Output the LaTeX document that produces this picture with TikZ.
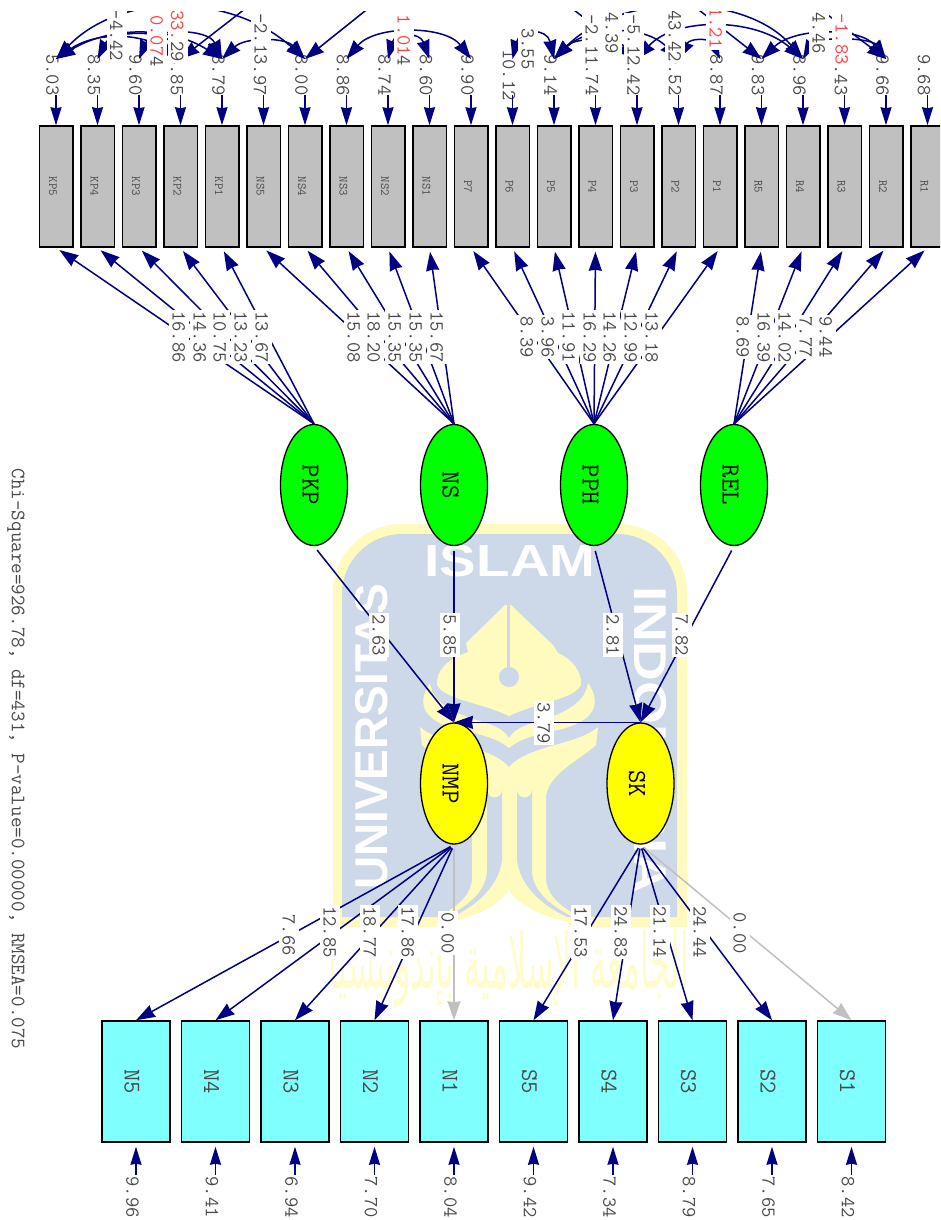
\documentclass[tikz,border=0pt]{standalone}
\usepackage{graphicx}
\usepackage{fontspec}
\usetikzlibrary{arrows.meta,shapes.geometric}
\newfontfamily\wmfont{Liberation Sans}
\newfontfamily\arabicfont[Script=Arabic]{DejaVu Sans}
\TeXXeTstate=1
\definecolor{wmyellow}{HTML}{FFFBBE}
\definecolor{wmpale}{HTML}{FFFCCC}
\definecolor{wmblue}{HTML}{CDD9E9}
\definecolor{pathnavy}{HTML}{000080}
\definecolor{zerogrey}{HTML}{C0C0C0}
\definecolor{txtgrey}{HTML}{4A4A4A}
\definecolor{txtred}{HTML}{FF4040}
\definecolor{fillcyan}{HTML}{80FFFF}
\definecolor{fillgreen}{HTML}{00FF00}
\definecolor{fillyellow}{HTML}{FFFF00}
\newcommand{\valfont}{\ttfamily\fontsize{20}{20}\selectfont}
\newcommand{\smfont}{\ttfamily\fontsize{12.5}{12.5}\selectfont}
\newcommand{\bigfont}{\ttfamily\fontsize{24}{24}\selectfont}
\newcommand{\latfont}{\ttfamily\fontsize{26}{26}\selectfont}
\begin{document}
\begin{tikzpicture}[x=1pt,y=-1pt,line join=miter,
  >={Stealth[length=19pt,width=13pt,inset=1pt]},
  obsgrey/.style={rectangle,draw=black,line width=1.5pt,fill=zerogrey,rotate=-90,inner sep=0pt,minimum width=121pt,minimum height=33.5pt,font=\smfont,text=txtgrey,text height=14pt,text depth=0pt},
  obscyan/.style={rectangle,draw=black,line width=1.5pt,fill=fillcyan,rotate=-90,inner sep=0pt,minimum width=121pt,minimum height=68pt,font=\bigfont,text=txtgrey,text height=22.6pt,text depth=0pt},
  latent/.style={ellipse,draw=black,line width=1.3pt,rotate=-90,inner sep=0pt,minimum width=121pt,minimum height=67pt,font=\latfont,text=black,text height=23pt,text depth=0pt},
  val/.style={rotate=-90,font=\valfont,text=txtgrey,inner sep=0pt},
  valbox/.style={val,fill=white,inner xsep=1.5pt,inner ysep=3.5pt,text height=13pt,text depth=0pt},
  pathline/.style={->,line width=1.5pt,pathnavy},
  pathzero/.style={->,line width=1.5pt,zerogrey},
  errpath/.style={-{Stealth[length=18pt,width=11pt,inset=1pt]},line width=1.5pt,pathnavy},
  covar/.style={<->,line width=1.5pt,pathnavy},
  covarend/.style={->,line width=1.5pt,pathnavy}]

\useasboundingbox (0,0) rectangle (940,1220);
\clip (0,12) rectangle (940,1220);

\fill[wmyellow] (333,927) [rounded corners=68pt] -- (333,524) -- (687,524) [sharp corners] -- (687,927) -- cycle;
\fill[wmblue] (342,917) [rounded corners=60pt] -- (342,534) -- (677,534) [sharp corners] -- (677,917) -- cycle;
\fill[wmyellow] (505,605) -- (466,643) -- (468,652) .. controls (445,660) and (436,672) .. (437,685) .. controls (445,700) and (480,702) .. (509,716) .. controls (538,702) and (573,700) .. (581,685) .. controls (582,672) and (573,660) .. (558,653) -- (553,645) -- (511,605) -- cycle;
\fill[wmblue] (507,605) rectangle (510,670);
\fill[wmblue] (509,677) circle (10);
\fill[wmyellow] (430,683) .. controls (415,705) and (425,722) .. (460,730) .. controls (485,735) and (500,740) .. (509,748) .. controls (518,740) and (533,735) .. (558,730) .. controls (593,722) and (603,705) .. (588,683) .. controls (585,705) and (560,715) .. (535,722) .. controls (522,726) and (514,730) .. (509,738) .. controls (504,730) and (496,726) .. (483,722) .. controls (458,715) and (433,705) .. (430,683) -- cycle;
\fill[wmyellow] (420,727) .. controls (440,745) and (490,745) .. (509,767) .. controls (528,745) and (578,745) .. (598,727) -- (596,745) .. controls (580,760) and (545,775) .. (546,800) -- (546,880) .. controls (548,900) and (568,910) .. (582,919) -- (436,919) .. controls (450,910) and (470,900) .. (472,880) -- (472,800) .. controls (473,775) and (438,760) .. (422,745) -- cycle;
\fill[wmblue] (487,790) arc[start angle=180,end angle=0,radius=7.5] -- (502,860) .. controls (499,885) and (478,905) .. (452,917) -- (446,917) .. controls (470,905) and (487,890) .. (487,870) -- cycle;
\fill[wmblue] (532,790) arc[start angle=0,end angle=180,radius=7.5] -- (517,860) .. controls (520,885) and (541,905) .. (567,917) -- (573,917) .. controls (549,905) and (532,890) .. (532,870) -- cycle;
\fill[white] (509,890) .. controls (500,905) and (480,915) .. (450,922) -- (450,930) -- (568,930) -- (568,922) .. controls (538,915) and (518,905) .. (509,890) -- cycle;

\node[text=white,font=\wmfont\bfseries\fontsize{45}{45}\selectfont,inner sep=0pt] (wmislam) at (510,561) {\scalebox{1.22}[1]{ISLAM}};
\node[text=white,font=\wmfont\bfseries\fontsize{46}{46}\selectfont,inner sep=0pt,rotate=90] (wmuni) at (372,737) {UNIVERSITAS};
\node[text=white,font=\wmfont\bfseries\fontsize{46}{46}\selectfont,inner sep=0pt,rotate=-90] (wmindo) at (650,740) {\scalebox{1.2}[1]{INDONESIA}};
\node[text=wmpale,inner sep=0pt] (wmarab) at (509,969) {\resizebox{360pt}{58pt}{\arabicfont\beginR الجامعة الإسلامية بإندونيسيا\endR}};

\foreach \name/\err [count=\i from 0] in {KP5/5.03,KP4/8.35,KP3/9.60,KP2/8.85,KP1/8.79,NS5/8.97,NS4/8.00,NS3/8.86,NS2/8.74,NS1/8.60,P7/9.90,P6/10.12,P5/9.14,P4/9.74,P3/9.42,P2/9.52,P1/8.87,R5/9.83,R4/8.96,R3/9.43,R2/9.66,R1/9.68}{
  \node[obsgrey] (\name) at (56+41.5*\i,186.5) {\name};
  \node[val] (e\name) at (52.5+41.5*\i,75) {\err};
  \coordinate (s\name) at (56+41.5*\i,95);
  \coordinate (t\name) at (56+41.5*\i,59);
  \draw[errpath] (s\name) -- (\name.west);
}

\foreach \name/\err [count=\i from 0] in {N5/9.96,N4/9.41,N3/6.94,N2/7.70,N1/8.04,S5/9.42,S4/7.34,S3/8.79,S2/7.65,S1/8.42}{
  \node[obscyan] (\name) at (136+79.5*\i,1081.5) {\name};
  \node[val] (e\name) at (132.5+79.5*\i,1197) {\err};
  \coordinate (s\name) at (136+79.5*\i,1175);
  \draw[errpath,shorten >=4pt] (s\name) -- (\name.east);
}

\node[latent,fill=fillgreen] (PKP) at (314,485) {PKP};
\node[latent,fill=fillgreen] (NS) at (454,485) {NS};
\node[latent,fill=fillgreen] (PPH) at (594,485) {PPH};
\node[latent,fill=fillgreen] (REL) at (734,485) {REL};
\node[latent,fill=fillyellow] (NMP) at (454,783.5) {NMP};
\node[latent,fill=fillyellow] (SK) at (640.5,783.5) {SK};

\foreach \from/\list in {PKP/{KP5,KP4,KP3,KP2,KP1},NS/{NS5,NS4,NS3,NS2,NS1},PPH/{P7,P6,P5,P4,P3,P2,P1},REL/{R5,R4,R3,R2,R1}}{
  \foreach \to in \list {\draw[pathline,shorten >=4pt] (\from.west) -- (\to.east);}
}
\foreach \from/\to in {PKP/NMP,NS/NMP,PPH/SK,REL/SK}{\draw[pathline,shorten <=5pt] (\from.east) -- (\to.west);}
\draw[pathline] (SK.west) -- (NMP.west);
\foreach \to in {N5,N4,N3,N2}{\draw[pathline,shorten <=4pt] (NMP.east) -- (\to.west);}
\foreach \to in {S5,S4,S3,S2}{\draw[pathline,shorten <=4pt] (SK.east) -- (\to.west);}
\draw[pathzero,shorten <=4pt] (NMP.east) -- (N1.west);
\draw[pathzero,shorten <=4pt] (SK.east) -- (S1.west);

\coordinate (oKPa) at (250,5);
\coordinate (oNSa) at (375,3);
\coordinate (oPa) at (565,3);
\coordinate (oRa) at (690,3);
\coordinate (oRb) at (812,3);
\draw[covar] (tKP5) .. controls (120,-8) and (230,-8) .. (tNS4);
\draw[covar] (tKP5) .. controls (110,26) and (170,26) .. (tKP1);
\draw[covar] (tKP5) .. controls (95,32) and (140,32) .. (tKP2);
\draw[covar] (tKP4) .. controls (112,30) and (165,30) .. (tKP2);
\draw[covar] (tKP3) .. controls (152,28) and (208,28) .. (tKP1);
\draw[covar] (tKP1) .. controls (245,37) and (285,37) .. (tNS4);
\draw[covar] (tNS3) .. controls (375,25) and (445,25) .. (tP7);
\draw[covar] (tNS2) .. controls (395,32) and (420,32) .. (tNS1);
\draw[covar] (tP6) .. controls (520,28) and (547,28) .. (tP5);
\draw[covar] (tP5) .. controls (620,-8) and (745,-8) .. (tR4);
\draw[covar] (tP5) .. controls (590,25) and (645,25) .. (tP2);
\draw[covar] (tP5) .. controls (575,37) and (615,37) .. (tP3);
\draw[covar] (tP3) .. controls (675,17) and (755,17) .. (tR4);
\draw[covar] (tP2) .. controls (690,38) and (710,38) .. (tP1);
\draw[covar] (tR5) .. controls (795,27) and (860,27) .. (tR2);
\draw[covar] (tR4) .. controls (815,37) and (870,37) .. (tR2);
\draw[covarend] (oKPa) -- (tKP2);
\draw[covarend] (oNSa) -- (tNS4);
\draw[covarend] (oPa) -- (tP3);
\draw[covarend] (oRa) -- (tR5);
\draw[covarend] (oRb) -- (tR2);

\foreach \x/\y/\v [count=\i] in {179/337/16.86,200/337/14.36,220/337/10.75,241/337/13.23,262/337/13.67,354/337/15.08,374/337/18.20,395/337/15.35,416/337/15.35,437/337/15.67,527/337/8.39,548/337/3.96,569/337/11.91,590/337/16.29,610/337/14.26,631/337/12.99,652/337/13.18,743/337/8.69,764/337/16.39,785/337/14.02,806/337/7.77,826/337/9.44,379/635/2.63,450/635/5.85,613/635/2.81,682/635/7.82,544/723/3.79,289/935/7.66,330/932/12.85,370/932/18.77,408/932/17.86,448/933/0.00,581/932/17.53,621/932/24.83,660/932/21.14,700/932/24.44,740/933/0.00,116.5/35.5/-4.42,261/39/-2.13,528/49/3.55,592/40/-2.11,612/33/4.39,634/40/-5.12,675/36/43.42,819/33/4.46}{
  \node[valbox] (lab\i) at (\x,\y) {\v};
}
\node[valbox] (labkpa) at (157,41) {{\color{txtred}0.07}4};
\node[valbox] (labkpb) at (177.5,36) {{\color{txtred}33.}29};
\node[valbox] (labnsa) at (404,40.5) {{\color{txtred}1.01}4};
\node[valbox,text=txtred] (labpa) at (716,28) {1.21};
\node[valbox,text=txtred] (labra) at (842,39) {-1.83};

\node[val,font=\ttfamily\fontsize{20.5}{20.5}\selectfont] (fit) at (16,759) {Chi-Square=926.78, df=431, P-value=0.00000, RMSEA=0.075};

\end{tikzpicture}
\end{document}
